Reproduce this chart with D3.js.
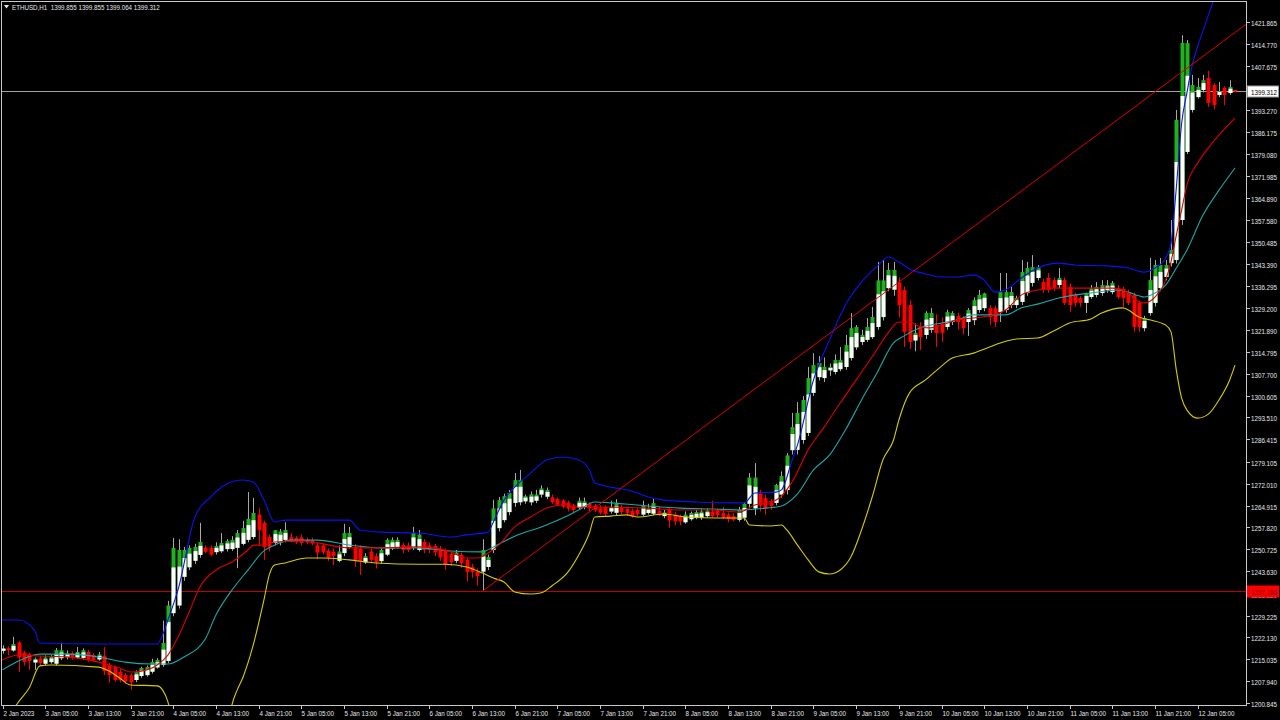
<!DOCTYPE html>
<html><head><meta charset="utf-8">
<script src="https://cdn.jsdelivr.net/npm/d3@7"></script>
<style>html,body{margin:0;padding:0;background:#000;overflow:hidden}</style>
</head><body><svg id="c" width="1280" height="720"></svg>
<script>
// ---------- DATA ----------
const headerText = "ETHUSD,H1  1399.855 1399.855 1399.064 1399.312";
// hourly bars, first bar = 2 Jan 2023 21:00 ; [open, high, low, close]
const ohlc = [
[1217.8,1219.6,1216.9,1218.5],[1218.6,1219.2,1216.3,1218.0],[1217.9,1222.3,1217.5,1220.0],[1220.5,1221.0,1210.9,1215.6],
[1217.2,1217.8,1213.0,1214.2],[1216.7,1217.2,1211.6,1214.5],[1214.0,1215.6,1211.6,1215.2],[1215.3,1216.0,1213.0,1213.8],
[1213.6,1216.3,1213.0,1215.6],[1214.1,1216.4,1213.6,1215.8],[1213.6,1218.7,1213.0,1218.0],[1215.4,1220.4,1214.8,1218.0],
[1215.7,1217.9,1215.0,1217.0],[1217.0,1217.6,1214.9,1215.4],[1215.6,1219.0,1215.2,1217.4],[1215.5,1218.6,1215.0,1218.0],
[1217.4,1218.0,1214.2,1214.8],[1216.4,1217.0,1214.3,1214.8],[1215.0,1217.4,1214.6,1216.6],[1216.2,1219.0,1209.9,1211.2],
[1213.2,1213.8,1207.5,1209.9],[1212.5,1213.0,1207.8,1208.3],[1210.9,1211.8,1207.5,1208.3],[1209.9,1210.5,1207.0,1207.8],
[1209.9,1210.4,1205.1,1207.5],[1208.3,1211.4,1207.6,1210.9],[1209.6,1212.6,1209.0,1212.2],[1209.9,1213.0,1209.4,1212.5],
[1211.0,1215.2,1210.4,1214.2],[1212.4,1215.4,1212.0,1214.8],[1213.2,1227.6,1212.6,1220.3],[1214.5,1234.0,1213.8,1232.5],
[1230.0,1254.4,1229.0,1251.2],[1232.5,1254.0,1231.5,1250.5],[1241.8,1251.5,1240.5,1250.5],[1244.9,1252.0,1244.0,1251.2],
[1247.0,1252.5,1246.0,1251.5],[1248.9,1259.3,1248.0,1253.1],[1251.3,1252.0,1249.5,1249.9],[1251.2,1252.0,1248.5,1249.0],
[1249.8,1253.0,1249.0,1251.8],[1250.1,1256.0,1249.6,1252.8],[1250.8,1254.0,1250.0,1253.4],[1250.8,1255.0,1250.2,1253.8],
[1251.2,1257.0,1244.6,1256.0],[1252.5,1260.0,1252.0,1257.6],[1253.8,1269.3,1253.0,1260.6],[1254.7,1267.4,1254.0,1262.5],
[1262.0,1264.0,1252.0,1257.0],[1259.3,1260.0,1247.3,1251.5],[1254.7,1255.5,1250.0,1251.5],[1252.8,1257.0,1252.0,1256.9],
[1253.0,1257.3,1252.0,1256.5],[1253.8,1259.5,1253.0,1257.0],[1254.7,1256.0,1253.0,1253.1],[1254.5,1255.0,1252.5,1253.0],
[1254.6,1255.5,1252.0,1252.8],[1253.8,1254.5,1252.3,1252.9],[1253.5,1254.5,1252.0,1252.6],[1252.0,1253.0,1247.5,1249.7],
[1252.0,1252.5,1249.0,1249.8],[1250.2,1251.0,1247.0,1248.0],[1250.0,1251.0,1245.6,1248.6],[1247.0,1252.0,1246.5,1250.0],
[1249.5,1259.0,1248.5,1256.0],[1251.5,1258.0,1251.0,1256.0],[1251.5,1252.5,1245.0,1247.3],[1251.0,1252.0,1242.4,1247.0],
[1246.5,1249.5,1246.0,1248.5],[1250.0,1251.0,1246.5,1247.3],[1248.5,1249.5,1244.5,1246.5],[1246.9,1251.5,1246.0,1250.5],
[1249.0,1254.3,1248.5,1253.8],[1251.0,1254.6,1250.5,1253.8],[1251.5,1254.6,1251.0,1253.8],[1252.1,1252.8,1249.5,1250.5],
[1252.0,1253.0,1249.8,1250.5],[1251.2,1258.0,1250.5,1256.0],[1250.5,1257.0,1250.0,1255.5],[1253.1,1254.0,1249.5,1250.5],
[1252.0,1253.0,1249.5,1250.5],[1251.8,1252.5,1248.5,1249.7],[1251.0,1251.8,1247.0,1248.1],[1250.3,1251.0,1244.0,1245.8],
[1249.2,1250.0,1245.3,1246.6],[1247.0,1250.5,1246.2,1249.7],[1248.9,1249.7,1244.7,1246.2],[1247.3,1248.0,1240.3,1243.4],
[1245.0,1246.0,1241.5,1243.4],[1243.5,1244.5,1239.0,1242.0],[1243.5,1254.0,1237.186,1250.5],[1245.0,1249.0,1244.0,1248.2],
[1250.5,1266.8,1249.5,1264.0],[1257.6,1267.7,1256.5,1266.7],[1260.2,1268.8,1259.5,1268.0],[1262.8,1270.0,1261.8,1269.0],
[1265.8,1275.5,1264.5,1273.2],[1266.0,1276.5,1265.0,1273.2],[1266.3,1268.5,1265.5,1268.0],[1266.0,1269.5,1265.0,1268.6],
[1266.5,1270.0,1265.7,1268.5],[1268.5,1271.5,1267.5,1270.5],[1267.8,1270.8,1267.0,1270.0],[1267.6,1268.5,1265.5,1266.0],
[1267.0,1267.5,1264.8,1265.2],[1266.6,1267.0,1264.0,1264.5],[1265.8,1266.5,1263.0,1264.0],[1265.0,1265.5,1262.5,1263.5],
[1264.2,1267.5,1263.5,1266.5],[1264.5,1267.5,1263.7,1266.3],[1265.5,1266.0,1263.0,1264.0],[1265.0,1265.5,1262.8,1263.4],
[1264.0,1265.0,1262.0,1262.6],[1264.5,1265.0,1261.5,1262.2],[1263.0,1266.5,1262.3,1264.5],[1262.6,1267.0,1261.8,1265.5],
[1264.5,1265.2,1262.0,1262.8],[1263.8,1264.5,1261.5,1262.5],[1263.2,1264.0,1261.0,1261.5],[1263.5,1264.0,1261.5,1262.2],
[1262.0,1266.5,1261.5,1265.0],[1262.5,1265.5,1262.0,1264.0],[1262.3,1267.2,1261.8,1265.7],[1263.2,1264.5,1261.5,1261.8],
[1261.5,1263.5,1260.8,1262.7],[1263.7,1264.2,1257.7,1260.1],[1262.0,1263.0,1258.5,1259.8],[1261.5,1262.0,1258.5,1259.8],
[1259.5,1263.0,1259.0,1262.0],[1260.5,1263.0,1260.0,1262.5],[1261.0,1263.5,1260.5,1262.8],[1261.0,1264.0,1260.3,1263.0],
[1261.5,1264.0,1261.0,1263.3],[1263.0,1266.5,1261.0,1261.5],[1263.3,1264.0,1261.0,1261.8],[1262.5,1264.5,1260.5,1261.0],
[1262.0,1262.7,1259.5,1260.5],[1261.5,1262.5,1259.8,1260.3],[1260.3,1264.5,1259.7,1263.5],[1261.0,1266.0,1260.0,1265.5],
[1265.5,1275.5,1264.0,1274.0],[1264.0,1278.7,1261.8,1274.0],[1268.9,1270.0,1263.0,1265.0],[1267.3,1268.5,1262.0,1264.0],
[1266.0,1267.0,1263.5,1264.7],[1265.8,1272.0,1265.0,1271.6],[1268.5,1276.0,1267.5,1274.5],[1270.0,1282.0,1268.5,1281.2],
[1282.9,1295.0,1281.5,1290.4],[1283.0,1298.5,1281.5,1295.0],[1286.2,1300.5,1285.0,1299.2],[1288.5,1309.9,1287.5,1306.3],
[1301.5,1314.4,1300.5,1310.5],[1306.6,1313.5,1305.5,1311.2],[1306.3,1313.0,1305.0,1310.0],[1308.8,1311.0,1307.0,1309.9],
[1308.3,1314.0,1307.5,1312.2],[1309.2,1316.4,1308.5,1312.2],[1309.9,1320.3,1309.0,1317.0],[1312.8,1327.4,1312.0,1322.5],
[1316.3,1323.5,1315.5,1322.9],[1318.0,1322.0,1317.0,1320.3],[1318.7,1325.8,1318.0,1322.9],[1319.6,1329.4,1319.0,1326.1],
[1322.9,1344.0,1322.0,1338.0],[1326.1,1344.6,1325.0,1338.0],[1335.5,1343.7,1334.5,1341.4],[1335.0,1344.0,1333.0,1341.4],
[1337.2,1339.0,1326.0,1330.0],[1334.9,1336.0,1316.4,1321.3],[1330.0,1331.5,1315.8,1318.0],[1318.5,1324.0,1315.0,1321.0],
[1322.9,1324.5,1315.4,1319.6],[1320.3,1328.0,1319.0,1327.4],[1322.0,1329.0,1321.0,1327.4],[1323.5,1327.0,1316.4,1320.9],
[1324.0,1326.0,1318.0,1321.0],[1322.9,1328.5,1322.0,1327.7],[1324.5,1328.0,1323.5,1327.4],[1326.5,1327.5,1322.0,1324.5],
[1325.8,1326.5,1320.5,1322.5],[1324.5,1329.0,1320.0,1328.4],[1325.1,1332.5,1323.5,1331.6],[1328.4,1334.9,1327.5,1333.3],
[1329.0,1334.0,1328.0,1333.8],[1329.0,1330.0,1323.5,1326.1],[1329.0,1329.8,1322.9,1324.5],[1327.7,1340.4,1324.5,1334.2],
[1328.4,1340.4,1327.5,1334.2],[1330.0,1336.0,1329.0,1334.2],[1330.0,1333.0,1329.0,1332.3],[1331.0,1344.6,1330.0,1340.7],
[1333.9,1344.0,1333.0,1342.0],[1337.2,1346.2,1336.0,1342.3],[1338.8,1343.0,1338.0,1342.3],[1337.5,1338.5,1334.0,1334.9],
[1338.8,1340.4,1334.0,1334.9],[1338.1,1339.0,1334.5,1335.5],[1336.5,1342.0,1335.5,1338.8],[1338.1,1339.0,1330.0,1330.7],
[1335.9,1337.0,1327.7,1330.0],[1333.3,1334.0,1329.5,1330.7],[1332.3,1333.0,1329.4,1330.7],[1330.7,1334.0,1327.4,1333.9],
[1332.6,1336.5,1332.0,1335.5],[1333.3,1337.5,1332.5,1335.9],[1333.9,1338.1,1333.0,1336.5],[1334.9,1338.1,1334.0,1336.5],
[1334.2,1337.8,1333.5,1337.2],[1335.5,1336.5,1332.0,1332.6],[1335.2,1336.0,1329.4,1332.3],[1334.2,1335.0,1330.0,1330.7],
[1333.3,1334.0,1321.3,1322.9],[1330.7,1331.5,1321.3,1322.9],[1322.5,1326.5,1321.5,1325.8],[1327.4,1345.3,1326.5,1338.1],
[1330.7,1344.6,1329.5,1343.0],[1335.5,1345.3,1334.5,1343.0],[1339.1,1344.6,1338.0,1343.0],[1343.6,1357.6,1342.5,1347.9],
[1344.6,1393.3,1343.5,1390.1],[1357.6,1417.6,1356.0,1415.1],[1379.7,1416.0,1379.0,1415.0],[1393.3,1404.7,1392.5,1401.4],
[1397.5,1403.7,1397.0,1400.8],[1399.8,1404.7,1399.0,1403.0],[1403.7,1406.0,1394.3,1395.6],[1401.4,1402.0,1393.5,1394.9],
[1398.2,1402.4,1397.5,1399.5],[1400.5,1401.0,1394.9,1398.2],[1398.8,1403.0,1398.2,1400.8],[1399.855,1399.855,1399.064,1399.312]
];
// Bollinger upper / middle / lower and fast MA, read as [bar, price]
const upperBand = [[0,1227.8],[3,1227.8],[6,1224.5],[7,1220.3],[18,1220.0],[29,1220.0],[30,1222.9],[31,1227.8],[33,1238.2],
[36,1260.9],[39,1267.7],[42,1271.9],[45,1273.2],[47,1272.6],[49,1266.7],[51,1259.6],[53,1260.2],[65,1260.2],[67,1257.0],
[71,1256.3],[78,1256.0],[84,1254.7],[87,1255.4],[91,1256.3],[92,1259.6],[94,1266.7],[96,1270.9],[99,1275.5],[102,1279.7],
[105,1280.7],[108,1279.7],[110,1276.5],[111,1272.3],[114,1270.9],[118,1269.6],[121,1267.7],[124,1266.7],[130,1266.1],
[136,1265.8],[139,1265.8],[141,1269.0],[145,1269.3],[146,1270.0],[148,1279.7],[149,1284.6],[152,1305.7],[155,1318.7],
[158,1330.0],[161,1337.5],[164,1342.7],[166,1345.6],[168,1344.0],[170,1341.7],[173,1340.1],[176,1339.1],[179,1339.1],
[182,1339.8],[184,1338.1],[186,1334.2],[188,1334.9],[191,1338.8],[194,1342.0],[198,1343.6],[201,1343.0],[207,1342.7],
[211,1342.0],[214,1340.7],[216,1342.0],[218,1345.3],[219,1350.0],[220,1368.0],[221,1389.0],[222,1399.0],[223,1408.0],
[224,1414.0],[225,1419.0],[226,1424.0],[227,1429.0],[229,1436.0],[231,1442.0]];
const middleBand = [[0,1211.6],[3,1214.5],[7,1216.7],[12,1216.7],[18,1215.8],[23,1214.1],[28,1213.5],[31,1213.5],[34,1215.8],
[38,1221.6],[40,1229.4],[43,1237.5],[46,1244.0],[49,1250.2],[51,1252.1],[54,1253.7],[59,1253.7],[65,1252.1],[71,1251.2],
[78,1251.2],[84,1250.2],[90,1249.9],[92,1251.5],[96,1255.0],[101,1258.0],[105,1260.9],[108,1263.5],[111,1266.1],[114,1265.8],
[121,1264.8],[127,1264.1],[133,1263.8],[139,1263.5],[143,1264.1],[146,1264.8],[149,1268.7],[152,1276.5],[155,1281.3],
[158,1289.5],[161,1299.2],[164,1308.3],[167,1317.7],[169,1320.0],[172,1322.6],[176,1324.2],[179,1325.2],[182,1326.8],
[185,1326.8],[188,1326.8],[191,1329.1],[194,1330.3],[198,1332.3],[201,1333.3],[204,1333.9],[209,1334.9],[211,1334.2],
[213,1333.0],[214,1332.6],[216,1333.9],[218,1336.5],[220,1342.0],[222,1347.9],[225,1359.2],[228,1367.3],[231,1374.5]];
const lowerBand = [[0,1192.0],[2,1198.6],[3,1201.2],[5,1205.7],[7,1212.9],[9,1213.2],[18,1212.5],[20,1211.2],[22,1208.9],
[24,1206.7],[29,1206.4],[30,1205.1],[31,1201.2],[32,1193.7],[34,1182.3],[37,1176.0],[40,1178.0],[42,1190.0],[43,1200.2],
[44,1205.1],[45,1208.9],[47,1219.7],[49,1234.3],[50,1242.4],[51,1245.6],[53,1246.3],[57,1247.9],[60,1247.9],[65,1247.3],
[70,1246.3],[78,1245.9],[83,1245.9],[87,1245.0],[90,1243.0],[92,1241.4],[94,1240.1],[96,1236.9],[99,1236.2],[101,1236.6],
[103,1238.9],[106,1243.4],[108,1248.9],[110,1256.0],[111,1261.2],[114,1261.5],[117,1261.9],[119,1261.2],[124,1262.2],
[128,1261.2],[134,1260.9],[139,1260.9],[140,1258.6],[144,1258.3],[146,1258.6],[147,1257.0],[149,1252.1],[151,1247.3],
[153,1243.4],[155,1242.7],[157,1244.0],[159,1248.2],[161,1257.0],[163,1267.7],[165,1279.7],[167,1286.2],[168,1292.7],
[170,1301.5],[173,1305.7],[176,1310.2],[178,1312.8],[182,1314.4],[185,1316.4],[187,1317.7],[190,1319.0],[194,1319.3],
[197,1321.6],[200,1324.2],[204,1325.5],[206,1327.4],[210,1329.1],[211,1328.4],[213,1326.1],[215,1325.2],[218,1323.5],
[219,1321.3],[220,1308.9],[221,1299.8],[222,1295.9],[224,1293.3],[226,1294.6],[228,1299.2],[230,1305.7],[231,1310.5]];
const fastMA = [[0,1214.8],[3,1216.4],[7,1216.1],[12,1215.8],[18,1214.1],[20,1213.2],[22,1212.2],[24,1210.9],[26,1211.2],
[29,1213.2],[31,1216.4],[33,1222.6],[35,1230.4],[37,1238.5],[40,1244.0],[43,1246.6],[46,1250.5],[47,1252.1],[49,1252.1],
[51,1253.1],[56,1253.4],[59,1252.8],[65,1251.2],[71,1251.2],[78,1251.5],[84,1249.9],[87,1247.9],[89,1247.9],[91,1249.5],
[93,1252.1],[96,1258.0],[99,1261.2],[102,1264.1],[105,1265.1],[108,1264.4],[114,1264.4],[121,1264.1],[127,1263.5],
[133,1263.5],[138,1262.8],[141,1265.1],[145,1266.7],[148,1272.6],[151,1283.0],[154,1290.4],[157,1298.2],[160,1305.7],
[163,1313.2],[166,1321.0],[168,1324.5],[170,1324.5],[172,1322.9],[174,1322.6],[176,1323.5],[179,1325.2],[182,1325.8],
[185,1326.5],[188,1328.4],[191,1333.3],[194,1334.9],[197,1335.5],[201,1335.5],[208,1335.5],[211,1333.9],[213,1331.0],
[214,1330.7],[216,1332.6],[218,1338.1],[219,1344.0],[220,1352.7],[221,1360.9],[222,1369.0],[224,1376.1],[226,1381.0],
[228,1385.2],[231,1390.7]];
// trend line anchors [bar, price] (ray to the right)
const trendAnchors = [[90,1237.186],[221,1405.6]];
const bidPrice = 1399.312;
const levelPrice = 1237.186;
const yTickValues = [1421.865,1414.770,1407.675,1400.365,1393.270,1386.175,1379.080,1371.985,1364.890,1357.580,1350.485,
1343.390,1336.295,1329.200,1321.890,1314.795,1307.700,1300.605,1293.510,1286.415,1279.105,1272.010,1264.915,1257.820,
1250.725,1243.630,1236.320,1229.225,1222.130,1215.035,1207.940,1200.845];
const xTickLabels = ["2 Jan 2023","3 Jan 05:00","3 Jan 13:00","3 Jan 21:00","4 Jan 05:00","4 Jan 13:00","4 Jan 21:00",
"5 Jan 05:00","5 Jan 13:00","5 Jan 21:00","6 Jan 05:00","6 Jan 13:00","6 Jan 21:00","7 Jan 05:00","7 Jan 13:00",
"7 Jan 21:00","8 Jan 05:00","8 Jan 13:00","8 Jan 21:00","9 Jan 05:00","9 Jan 13:00","9 Jan 21:00","10 Jan 05:00",
"10 Jan 13:00","10 Jan 21:00","11 Jan 05:00","11 Jan 13:00","11 Jan 21:00","12 Jan 05:00"];
const barsPerLabel = 8;

// ---------- LAYOUT ----------
const W = 1280, H = 720;
const plot = {left: 1, top: 1, right: 1246, bottom: 705};
const FONT = "'Liberation Sans',Arial,sans-serif";
const FS = "8px";
const SQUEEZE = 0.78;
const svg = d3.select("#c");
svg.append("rect").attr("width", W).attr("height", H).attr("fill", "#000");

// text drawn at (px,py), horizontally condensed via a scale transform
function label(sel, str, fill, px, py) {
  return sel.append("text").text(str).attr("fill", fill)
    .attr("font-family", FONT).attr("font-size", FS).attr("xml:space", "preserve")
    .attr("transform", `translate(${px},${py}) scale(${SQUEEZE},1)`);
}

const x = d3.scaleLinear().domain([0, ohlc.length - 1]).range([2.5, 1235]);
const y = d3.scaleLinear().domain([1200.845, 1421.865]).range([703, 22]);

svg.append("defs").append("clipPath").attr("id", "clip")
  .append("rect").attr("x", plot.left).attr("y", plot.top)
  .attr("width", plot.right - plot.left).attr("height", plot.bottom - plot.top);
const g = svg.append("g").attr("clip-path", "url(#clip)");

// horizontal level lines
g.append("line").attr("x1", plot.left).attr("x2", plot.right)
  .attr("y1", Math.round(y(levelPrice)) + 0.5).attr("y2", Math.round(y(levelPrice)) + 0.5)
  .attr("stroke", "#c00000").attr("stroke-width", 1);
g.append("line").attr("x1", plot.left).attr("x2", plot.right)
  .attr("y1", Math.round(y(bidPrice)) + 0.5).attr("y2", Math.round(y(bidPrice)) + 0.5)
  .attr("stroke", "#a0a0a0").attr("stroke-width", 1);

// candles
const cw = 4;
const cx = i => Math.round(x(i)) + 0.5;
const candles = g.append("g").selectAll("g").data(ohlc.map((d, i) => ({d, i}))).join("g");
candles.append("line")
  .attr("x1", e => cx(e.i)).attr("x2", e => cx(e.i))
  .attr("y1", e => y(e.d[1])).attr("y2", e => y(e.d[2]))
  .attr("stroke", e => e.d[3] >= e.d[0] ? "#a8a8a8" : "#ff0000").attr("stroke-width", 1);
// body: bear = red; bull = green cap over white
candles.append("rect")
  .attr("x", e => cx(e.i) - cw / 2)
  .attr("y", e => y(Math.max(e.d[0], e.d[3])))
  .attr("width", cw)
  .attr("height", e => Math.max(1, Math.abs(y(e.d[0]) - y(e.d[3]))))
  .attr("fill", e => e.d[3] >= e.d[0] ? "#20b020" : "#ff0000");
candles.filter(e => e.d[3] >= e.d[0]).append("rect")
  .each(function(e) {
    const top = y(e.d[3]), bot = y(e.d[0]);
    const h = bot - top;
    const wTop = h > 3 ? top + h * 0.3 : top;
    d3.select(this).attr("x", cx(e.i) - cw / 2).attr("y", wTop)
      .attr("width", cw).attr("height", Math.max(1, bot - wTop));
  })
  .attr("fill", "#ffffff");

// indicator lines
const line = d3.line().x(d => x(d[0])).y(d => y(d[1])).curve(d3.curveMonotoneX);
[[upperBand, "#0a14f0"], [middleBand, "#1aa8a8"], [lowerBand, "#d6cc00"], [fastMA, "#e00000"]]
  .forEach(([data, col]) => {
    g.append("path").datum(data).attr("d", line).attr("fill", "none")
      .attr("stroke", col).attr("stroke-width", 1.1);
  });

// trend line (ray)
const [a0, a1] = trendAnchors;
const slope = (a1[1] - a0[1]) / (a1[0] - a0[0]);
const endBar = ohlc.length + 10;
g.append("line")
  .attr("x1", x(a0[0])).attr("y1", y(a0[1]))
  .attr("x2", x(endBar)).attr("y2", y(a0[1] + slope * (endBar - a0[0])))
  .attr("stroke", "#e00000").attr("stroke-width", 1);

// frame
svg.append("rect").attr("x", plot.left + 0.5).attr("y", plot.top + 0.5)
  .attr("width", plot.right - plot.left).attr("height", plot.bottom - plot.top)
  .attr("fill", "none").attr("stroke", "#c8c8c8").attr("stroke-width", 1);

// y axis
const yAx = svg.append("g");
yTickValues.forEach(v => {
  const yy = Math.round(y(v)) + 0.5;
  yAx.append("line").attr("x1", plot.right).attr("x2", plot.right + 4).attr("y1", yy).attr("y2", yy)
    .attr("stroke", "#c8c8c8");
  label(yAx, v.toFixed(3), "#e8e8e8", 1251, yy + 3);
});

// x axis
const xAx = svg.append("g");
xTickLabels.forEach((lab, k) => {
  const xx = Math.round(x(k * barsPerLabel)) + 0.5;
  xAx.append("line").attr("x1", xx).attr("x2", xx).attr("y1", plot.bottom).attr("y2", plot.bottom + 4)
    .attr("stroke", "#c8c8c8");
  label(xAx, lab, "#e8e8e8", xx, 715.5);
});

// price labels on axis
function priceTag(v, bg, fg, border) {
  const yy = Math.round(y(v)) + 0.5;
  svg.append("rect").attr("x", 1247.5).attr("y", yy - 5.5).attr("width", 31).attr("height", 11)
    .attr("fill", bg).attr("stroke", border);
  label(svg, v.toFixed(3), fg, 1251, yy + 3);
}
priceTag(bidPrice, "#ffffff", "#000000", "#9a9a9a");
priceTag(levelPrice, "#ff0000", "#7a0000", "#ff0000");

// header
svg.append("path").attr("d", "M4,5 L9,5 L6.5,8.5 Z").attr("fill", "#e8e8e8");
label(svg, headerText, "#e8e8e8", 12, 9.5);
</script></body></html>
